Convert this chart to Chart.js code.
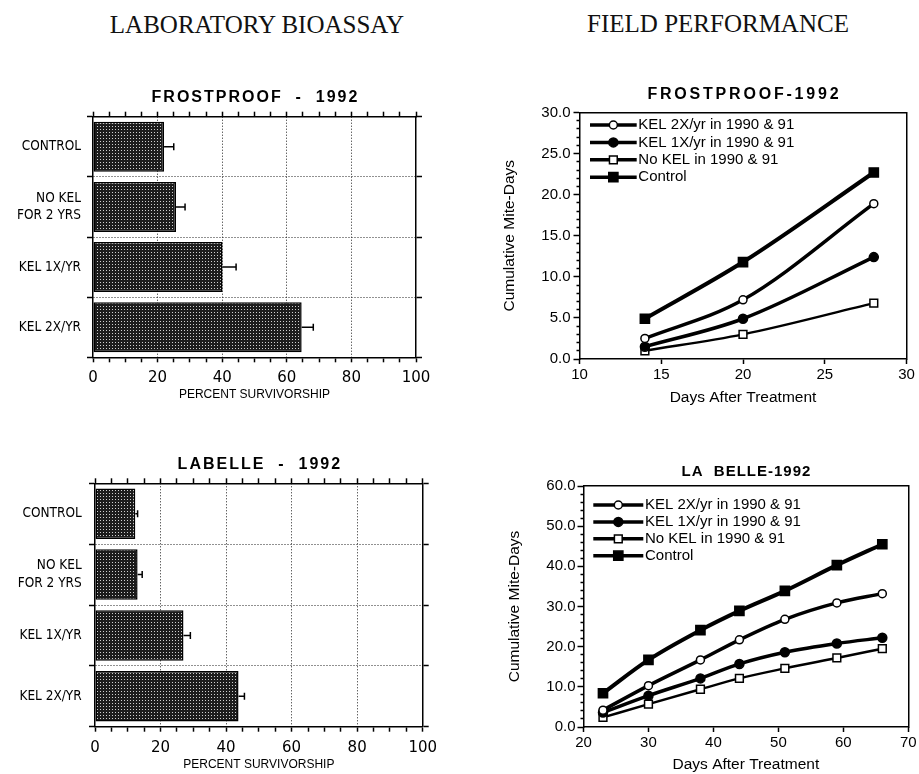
<!DOCTYPE html>
<html>
<head>
<meta charset="utf-8">
<script src="https://cdn.jsdelivr.net/npm/chart.js@4.4.1/dist/chart.umd.min.js"></script>
<style>
html, body { margin: 0; padding: 0; background: #fff; }
#page { position: relative; width: 919px; height: 774px; overflow: hidden; background: #fff; }
.head { position: absolute; width: 420px; text-align: center; white-space: nowrap;
        font-family: 'Liberation Serif', 'Times New Roman', serif; font-size: 25px; line-height: 30px; color: #111; }
canvas { position: absolute; }
</style>
</head>
<body>
<div id="page">
  <div class="head" style="left:47px; top:10px;">LABORATORY BIOASSAY</div>
  <div class="head" style="left:508px; top:8.6px;">FIELD PERFORMANCE</div>
  <canvas id="labFrost" width="450" height="324" style="left:0; top:80px;"></canvas>
  <canvas id="labBelle" width="450" height="324" style="left:0; top:450px;"></canvas>
  <canvas id="fieldFrost" width="459" height="340" style="left:460px; top:70px;"></canvas>
  <canvas id="fieldBelle" width="459" height="324" style="left:460px; top:450px;"></canvas>
</div>
<script>
// ---- Laboratory bioassay: percent survivorship by treatment ----
const treatments = ['CONTROL', ['NO KEL', 'FOR 2 YRS'], 'KEL 1X/YR', 'KEL 2X/YR'];
const frostproofSurvival = [22.0, 25.7, 40.1, 64.6];
const frostproofSurvivalErr = [3.0, 2.8, 4.2, 3.6];
const labelleSurvival = [12.3, 13.0, 27.0, 43.8];
const labelleSurvivalErr = [0.7, 1.4, 2.1, 1.8];
const survivalTicks = [0, 20, 40, 60, 80, 100];

// ---- Field performance: cumulative mite-days after treatment ----
const seriesNames = ['KEL 2X/yr in 1990 & 91', 'KEL 1X/yr in 1990 & 91', 'No KEL in 1990 & 91', 'Control'];
const frostproofDays = [14, 20, 28];
const frostproofKel2x = [2.5, 7.2, 18.9];
const frostproofKel1x = [1.5, 4.9, 12.4];
const frostproofNoKel = [1.0, 3.0, 6.8];
const frostproofControl = [4.9, 11.8, 22.7];
const labelleDays = [23, 30, 38, 44, 51, 59, 66];
const labelleKel2x = [4.2, 10.3, 16.7, 21.7, 26.8, 30.9, 33.2];
const labelleKel1x = [3.6, 7.8, 12.1, 15.7, 18.6, 20.8, 22.2];
const labelleNoKel = [2.4, 5.7, 9.4, 12.1, 14.6, 17.2, 19.5];
const labelleControl = [8.4, 16.7, 24.1, 28.9, 33.9, 40.3, 45.5];

const SANS = "'Liberation Sans', Arial, Helvetica, sans-serif";
const CONDENSED = "'Liberation Sans Narrow', 'DejaVu Sans Condensed', " + SANS;
Chart.defaults.font.family = SANS;
Chart.defaults.color = '#000';
const CLEAR = 'rgba(0,0,0,0)';

// Fine dark stipple used to fill the survivorship bars
function stipple(ctx) {
  const c = document.createElement('canvas');
  c.width = 3; c.height = 3;
  const g = c.getContext('2d');
  g.fillStyle = '#1c1c1c'; g.fillRect(0, 0, 3, 3);
  g.fillStyle = '#cfcfcf'; g.fillRect(1, 1, 1, 1);
  return ctx.createPattern(c, 'repeat');
}

// One-sided error bars at the end of each horizontal bar
const errorBarPlugin = {
  id: 'errorBars',
  afterDatasetsDraw(chart, args, opts) {
    const errs = opts.values;
    if (!errs) return;
    const meta = chart.getDatasetMeta(0);
    const xs = chart.scales.x;
    const vals = chart.data.datasets[0].data;
    const ctx = chart.ctx;
    ctx.save();
    ctx.strokeStyle = '#000';
    ctx.lineWidth = 1.5;
    meta.data.forEach((bar, i) => {
      const x0 = xs.getPixelForValue(vals[i]);
      const x1 = xs.getPixelForValue(vals[i] + errs[i]);
      const y = bar.y;
      ctx.beginPath();
      ctx.moveTo(x0, y); ctx.lineTo(x1, y);
      ctx.moveTo(x1, y - 3.5); ctx.lineTo(x1, y + 3.5);
      ctx.stroke();
    });
    ctx.restore();
  }
};

// Panel title and the in-plot legend (line + marker + label)
function drawMarker(ctx, ds, x, y) {
  const style = {pointStyle: ds.pointStyle, radius: ds.pointRadius, rotation: 0, borderWidth: ds.pointBorderWidth};
  ctx.fillStyle = ds.pointBackgroundColor;
  ctx.strokeStyle = ds.pointBorderColor;
  ctx.lineWidth = ds.pointBorderWidth;
  if (Chart.helpers && Chart.helpers.drawPoint) {
    Chart.helpers.drawPoint(ctx, style, x, y);
  } else {
    ctx.beginPath();
    if (ds.pointStyle === 'rect') {
      const h = ds.pointRadius * Math.SQRT1_2;
      ctx.rect(x - h, y - h, 2 * h, 2 * h);
    } else {
      ctx.arc(x, y, ds.pointRadius, 0, Math.PI * 2);
    }
    ctx.fill(); ctx.stroke();
  }
}

const panelDecor = {
  id: 'panelDecor',
  afterDraw(chart, args, o) {
    const ctx = chart.ctx;
    const a = chart.chartArea;
    if (o.title) {
      ctx.save();
      ctx.font = 'bold ' + o.titleSize + 'px ' + SANS;
      ctx.letterSpacing = o.titleSpacing + 'px';
      ctx.fillStyle = '#000';
      ctx.textAlign = 'center';
      ctx.textBaseline = 'middle';
      ctx.fillText(o.title, (a.left + a.right) / 2 + o.titleSpacing / 2, a.top - o.titleGap);
      ctx.restore();
    }
    if (o.legend) {
      const L = o.legend;
      ctx.save();
      chart.data.datasets.forEach((ds, i) => {
        const y = a.top + L.top + i * L.step;
        const x0 = a.left + L.lineFrom;
        const x1 = a.left + L.lineTo;
        ctx.strokeStyle = '#000';
        ctx.lineWidth = 3.5;
        ctx.beginPath(); ctx.moveTo(x0, y); ctx.lineTo(x1, y); ctx.stroke();
        drawMarker(ctx, ds, (x0 + x1) / 2, y);
        ctx.fillStyle = '#000';
        ctx.font = '15px ' + SANS;
        ctx.textAlign = 'left';
        ctx.textBaseline = 'middle';
        ctx.fillText(ds.label, a.left + L.textAt, y);
      });
      ctx.restore();
    }
  }
};

function labChart(id, survival, errs, title, g) {
  const ctx = document.getElementById(id).getContext('2d');
  return new Chart(ctx, {
    type: 'bar',
    data: {
      labels: treatments,
      datasets: [{
        data: survival,
        backgroundColor: stipple(ctx),
        borderColor: '#000',
        borderWidth: 1.5,
        borderSkipped: false,
        barPercentage: 0.83,
        categoryPercentage: 1
      }]
    },
    options: {
      indexAxis: 'y',
      responsive: false,
      animation: false,
      devicePixelRatio: 1,
      layout: {padding: 0},
      plugins: {
        legend: {display: false},
        tooltip: {enabled: false},
        errorBars: {values: errs},
        panelDecor: {title: title, titleSize: 16, titleSpacing: 2, titleGap: g.titleGap}
      },
      scales: {
        x: {
          type: 'linear', position: 'bottom', min: 0, max: 100,
          ticks: {
            stepSize: 5, autoSkip: false, maxRotation: 0,
            callback: v => survivalTicks.includes(v) ? String(v) : '',
            font: {family: "'DejaVu Sans', " + SANS, size: 15},
            color: '#000', padding: g.xPad
          },
          grid: {
            color: c => (c.tick && c.tick.value > 0 && c.tick.value < 100 && c.tick.value % 20 === 0) ? '#222' : CLEAR,
            lineWidth: 1, tickColor: '#000', tickWidth: 1.5, tickLength: 5
          },
          border: {color: '#000', width: 1.5, dash: [1, 2]},
          title: {display: true, text: 'PERCENT SURVIVORSHIP', font: {size: 12}, color: '#000', padding: {top: 0, bottom: g.titlePad}},
          afterFit: s => { s.height = g.bottom; }
        },
        xTop: {
          type: 'linear', position: 'top', min: 0, max: 100,
          ticks: {display: false, stepSize: 5, autoSkip: false},
          grid: {drawOnChartArea: false, tickColor: '#000', tickWidth: 1.5, tickLength: 5},
          border: {color: '#000', width: 1.5},
          afterFit: s => { s.height = g.top; }
        },
        y: {
          type: 'category', position: 'left',
          ticks: {font: {family: CONDENSED, size: 13.5, lineHeight: 1.3}, color: '#000', padding: g.yPad},
          grid: {
            offset: true,
            color: c => (c.index === 0 || c.index === treatments.length) ? CLEAR : '#222',
            lineWidth: 1, tickColor: '#000', tickWidth: 1.5, tickLength: 6
          },
          border: {color: '#000', width: 1.5, dash: [1, 2]},
          afterFit: s => { s.width = g.left; }
        },
        yRight: {
          type: 'category', position: 'right',
          ticks: {display: false},
          grid: {offset: true, drawOnChartArea: false, tickColor: '#000', tickWidth: 1.5, tickLength: 6},
          border: {color: '#000', width: 1.5},
          afterFit: s => { s.width = g.right; }
        }
      }
    },
    plugins: [errorBarPlugin, panelDecor]
  });
}

const markerStyles = [
  {pointStyle: 'circle', pointRadius: 4, pointBackgroundColor: '#fff', borderWidth: 3.5},
  {pointStyle: 'circle', pointRadius: 4.5, pointBackgroundColor: '#000', borderWidth: 3.5},
  {pointStyle: 'rect', pointRadius: 5.5, pointBackgroundColor: '#fff', borderWidth: 2.5},
  {pointStyle: 'rect', pointRadius: 6.5, pointBackgroundColor: '#000', borderWidth: 4}
];

function fieldChart(id, days, series, title, g) {
  const ctx = document.getElementById(id).getContext('2d');
  const datasets = series.map((vals, i) => Object.assign({
    label: seriesNames[i],
    data: days.map((d, j) => ({x: d, y: vals[j]})),
    borderColor: '#000',
    pointBorderColor: '#000',
    pointBorderWidth: 1.5,
    cubicInterpolationMode: 'monotone',
    fill: false,
    clip: false
  }, markerStyles[i]));
  return new Chart(ctx, {
    type: 'line',
    data: {datasets: datasets},
    options: {
      responsive: false,
      animation: false,
      devicePixelRatio: 1,
      layout: {padding: {left: g.padLeft, top: 0, right: 0, bottom: 0}},
      plugins: {
        legend: {display: false},
        tooltip: {enabled: false},
        panelDecor: {title: title, titleSize: g.titleSize, titleSpacing: g.titleSpacing, titleGap: g.titleGap, legend: g.legend}
      },
      scales: {
        x: {
          type: 'linear', position: 'bottom', min: g.xMin, max: g.xMax,
          ticks: {stepSize: g.xStep, autoSkip: false, maxRotation: 0, font: {size: 15}, color: '#000', padding: g.xPad},
          grid: {drawOnChartArea: false, tickColor: '#000', tickWidth: 1.5, tickLength: 5},
          border: {color: '#000', width: 1.5},
          title: {display: true, text: 'Days After Treatment', font: {size: 15.5}, color: '#000', padding: {top: 0, bottom: g.xTitlePad}},
          afterFit: s => { s.height = g.bottom; }
        },
        xTop: {
          type: 'linear', position: 'top', min: g.xMin, max: g.xMax,
          ticks: {display: false},
          grid: {display: false, drawTicks: false},
          border: {color: '#000', width: 1.5},
          afterFit: s => { s.height = g.top; }
        },
        y: {
          type: 'linear', position: 'left', min: 0, max: g.yMax,
          ticks: {
            stepSize: g.yMinor, autoSkip: false,
            callback: v => (v % g.yMajor === 0) ? v.toFixed(1) : '',
            font: {size: 15}, color: '#000', padding: g.yPad
          },
          grid: {
            drawOnChartArea: false, tickColor: '#000', tickWidth: 1.5, tickLength: 6,
            tickBorderDash: c => (c.tick && c.tick.value % g.yMajor !== 0) ? [0, 3, 3, 10] : []
          },
          border: {color: '#000', width: 1.5},
          title: {display: true, text: 'Cumulative Mite-Days', font: {size: 15.5}, color: '#000', padding: {top: 0, bottom: 0}},
          afterFit: s => { s.width = g.left; }
        },
        yRight: {
          type: 'linear', position: 'right', min: 0, max: g.yMax,
          ticks: {display: false},
          grid: {display: false, drawTicks: false},
          border: {color: '#000', width: 1.5},
          afterFit: s => { s.width = g.right; }
        }
      }
    },
    plugins: [panelDecor]
  });
}

labChart('labFrost', frostproofSurvival, frostproofSurvivalErr, 'FROSTPROOF  -  1992',
  {top: 36.7, bottom: 46.7, left: 93, right: 34, titleGap: 18.7, xPad: 6.7, titlePad: 1.8, yPad: 6});
labChart('labBelle', labelleSurvival, labelleSurvivalErr, 'LABELLE  -  1992',
  {top: 33.3, bottom: 47.3, left: 95, right: 27.3, titleGap: 18.3, xPad: 7.3, titlePad: 1.8, yPad: 7.3});

fieldChart('fieldFrost', frostproofDays,
  [frostproofKel2x, frostproofKel1x, frostproofNoKel, frostproofControl], 'FROSTPROOF-1992',
  {padLeft: 40.7, left: 78.8, right: 12.5, top: 42.5, bottom: 51,
   xMin: 10, xMax: 30, xStep: 5, yMax: 30, yMinor: 1, yMajor: 5,
   xPad: 2, yPad: 3, xTitlePad: 2.7, titleSize: 16, titleSpacing: 2.8, titleGap: 17.5,
   legend: {top: 12.5, step: 17.4, lineFrom: 10.5, lineTo: 57.2, textAt: 58.8}});

fieldChart('fieldBelle', labelleDays,
  [labelleKel2x, labelleKel1x, labelleNoKel, labelleControl], 'LA  BELLE-1992',
  {padLeft: 45.7, left: 77.8, right: 10.7, top: 36, bottom: 47,
   xMin: 20, xMax: 70, xStep: 10, yMax: 60, yMinor: 2, yMajor: 10,
   xPad: 2.3, yPad: 2, xTitlePad: 0, titleSize: 15, titleSpacing: 1, titleGap: 14.3,
   legend: {top: 19, step: 16.9, lineFrom: 9.8, lineTo: 59.8, textAt: 61.5}});
</script>
</body>
</html>
